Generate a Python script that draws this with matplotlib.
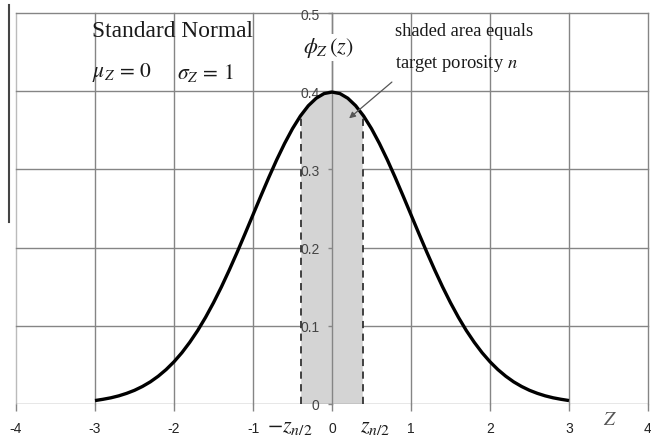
import matplotlib
matplotlib.use("Agg")
import matplotlib.pyplot as plt
from matplotlib.lines import Line2D

plt.rcParams['mathtext.fontset'] = 'stix'

# ---- data ----
z_vals = [-3.0, -2.9, -2.8, -2.7, -2.6, -2.5, -2.4, -2.3, -2.2, -2.1,
          -2.0, -1.9, -1.8, -1.7, -1.6, -1.5, -1.4, -1.3, -1.2, -1.1,
          -1.0, -0.9, -0.8, -0.7, -0.6, -0.5, -0.4, -0.3, -0.2, -0.1,
          0.0, 0.1, 0.2, 0.3, 0.4, 0.5, 0.6, 0.7, 0.8, 0.9,
          1.0, 1.1, 1.2, 1.3, 1.4, 1.5, 1.6, 1.7, 1.8, 1.9,
          2.0, 2.1, 2.2, 2.3, 2.4, 2.5, 2.6, 2.7, 2.8, 2.9, 3.0]
phi_vals = [0.0044, 0.0060, 0.0079, 0.0104, 0.0136, 0.0175, 0.0224, 0.0283, 0.0355, 0.0440,
            0.0540, 0.0656, 0.0790, 0.0940, 0.1109, 0.1295, 0.1497, 0.1714, 0.1942, 0.2179,
            0.2420, 0.2661, 0.2897, 0.3123, 0.3332, 0.3521, 0.3683, 0.3814, 0.3910, 0.3970,
            0.3989, 0.3970, 0.3910, 0.3814, 0.3683, 0.3521, 0.3332, 0.3123, 0.2897, 0.2661,
            0.2420, 0.2179, 0.1942, 0.1714, 0.1497, 0.1295, 0.1109, 0.0940, 0.0790, 0.0656,
            0.0540, 0.0440, 0.0355, 0.0283, 0.0224, 0.0175, 0.0136, 0.0104, 0.0079, 0.0060, 0.0044]
shade_z = [-0.39, -0.3, -0.2, -0.1, 0.0, 0.1, 0.2, 0.3, 0.39]
shade_phi = [0.3697, 0.3814, 0.3910, 0.3970, 0.3989, 0.3970, 0.3910, 0.3814, 0.3697]
x_ticks = [-4, -3, -2, -1, 0, 1, 2, 3, 4]
x_ticklabels = ['-4', '-3', '-2', '-1', '0', '1', '2', '3', '4']
y_ticks = [0, 0.1, 0.2, 0.3, 0.4, 0.5]
y_ticklabels = ['0', '0.1', '0.2', '0.3', '0.4', '0.5']

fig = plt.figure(figsize=(6.51, 4.39), dpi=100)
ax = fig.add_axes([16/651, 1 - 405/439, (648-16)/651, (405-14)/439])
ax.set_xlim(-4, 4)
ax.set_ylim(0, 0.5)

gridc = '#858585'
for s in ['top', 'right', 'bottom']:
    ax.spines[s].set_visible(False)
ax.spines['left'].set_position(('data', 0))
ax.spines['left'].set_color(gridc)
ax.spines['left'].set_linewidth(1.0)
ax.spines['left'].set_zorder(2.2)
ax.axhline(0, color=gridc, lw=1.0, zorder=2.2)

ax.set_xticks(x_ticks)
ax.set_xticklabels(x_ticklabels)
ax.set_yticks(y_ticks)
ax.set_yticklabels(y_ticklabels)
ax.tick_params(axis='x', direction='out', length=5, width=1, color=gridc,
               pad=7, labelsize=10, labelcolor='#222222')
ax.tick_params(axis='y', direction='out', length=3, width=1, color=gridc,
               pad=6, labelsize=10, labelcolor='#444444')
ax.yaxis.set_zorder(2.5)
ax.xaxis.set_zorder(2.5)
for lab in ax.get_xticklabels() + ax.get_yticklabels():
    lab.set_fontfamily('Liberation Sans')

# grid lines (including borders)
for xv in x_ticks:
    ax.axvline(xv, color=gridc if xv != -4 else '#bbbbbb', lw=1.0, zorder=0, clip_on=False)
for yv in y_ticks[1:]:
    ax.axhline(yv, color=gridc, lw=1.0, zorder=0, clip_on=False)

# shaded region
fill_x = [shade_z[0]] + shade_z + [shade_z[-1]]
fill_y = [0] + shade_phi + [0]
ax.fill(fill_x, fill_y, color='#d4d4d4', zorder=2, lw=0)
ax.plot([shade_z[0], shade_z[0]], [0, shade_phi[0]], color='#333333', lw=1.3,
        ls=(0, (4, 3)), zorder=3)
ax.plot([shade_z[-1], shade_z[-1]], [0, shade_phi[-1]], color='#333333', lw=1.3,
        ls=(0, (4, 3)), zorder=3)

# curve
ax.plot(z_vals, phi_vals, color='black', lw=2.4, zorder=4, solid_capstyle='butt')

serif = 'Liberation Serif'
ax.text(-3.04, 0.478, 'Standard Normal', fontsize=16.8, family=serif,
        ha='left', va='center', color='#1a1a1a')
ax.text(-3.04, 0.425, r'$\mu_Z\,=\,0$', fontsize=15.5,
        ha='left', va='center', color='#1a1a1a')
ax.text(-1.96, 0.425, r'$\sigma_Z\,=\,1$', fontsize=15.5,
        ha='left', va='center', color='#1a1a1a')
ax.text(-0.05, 0.456, r'$\phi_Z\,(z)$', fontsize=16, ha='center', va='center',
        color='#1a1a1a', bbox=dict(facecolor='white', edgecolor='none', pad=1),
        zorder=5)
ax.text(0.80, 0.478, 'shaded area equals', fontsize=13.3, family=serif,
        ha='left', va='center', color='#1a1a1a')
ax.text(0.80, 0.437, 'target porosity $n$', fontsize=13.3, family=serif,
        ha='left', va='center', color='#1a1a1a')
ax.annotate('', xy=(0.19, 0.363), xytext=(0.785, 0.414),
            arrowprops=dict(arrowstyle='-|>', color='#555555', lw=0.9,
                            mutation_scale=9), zorder=6)

ax.text(-0.53, -0.028, r'$-z_{n/2}$', fontsize=16, ha='center', va='center',
        color='#1a1a1a', clip_on=False)
ax.text(0.54, -0.028, r'$z_{n/2}$', fontsize=16, ha='center', va='center',
        color='#1a1a1a', clip_on=False)
ax.text(3.52, -0.018, r'$Z$', fontsize=14, ha='center', va='center',
        color='#555555', clip_on=False)

# dark vertical line at the far left of the picture
fig.add_artist(Line2D([9/651, 9/651], [1 - 6/439, 1 - 223/439],
                      transform=fig.transFigure, color='#444444', lw=1.5))

fig.savefig('out.png', dpi=100)
